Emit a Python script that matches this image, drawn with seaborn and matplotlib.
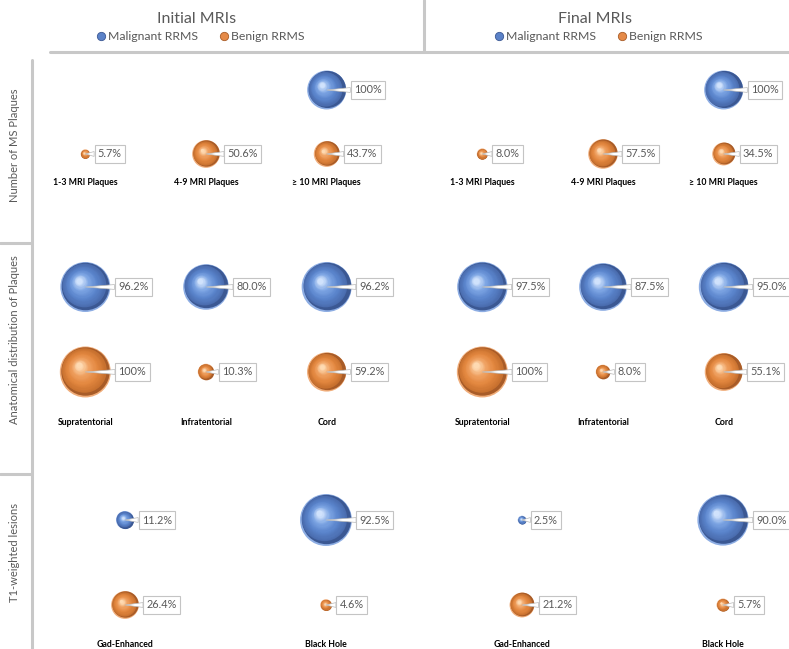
import numpy as np
import pandas as pd
import matplotlib
matplotlib.use("Agg")
import matplotlib.pyplot as plt
from matplotlib.lines import Line2D
from matplotlib.transforms import ScaledTranslation
from matplotlib.colors import LinearSegmentedColormap
import seaborn as sns

# ---------------- data ----------------
groups = ["Benign RRMS", "Malignant RRMS"]
columns = ["Initial MRIs", "Final MRIs"]
row_titles = ["Number of MS Plaques", "Anatomical distribution of Plaques", "T1-weighted lesions"]

cat_plaques = ["1-3 MRI Plaques", "4-9 MRI Plaques", "\u2265 10 MRI Plaques"]
cat_anat = ["Supratentorial", "Infratentorial", "Cord"]
cat_t1 = ["Gad-Enhanced", "Black Hole"]

plaques_benign_initial = [5.7, 50.6, 43.7]
plaques_malignant_initial = [np.nan, np.nan, 100.0]
plaques_benign_final = [8.0, 57.5, 34.5]
plaques_malignant_final = [np.nan, np.nan, 100.0]

anat_benign_initial = [100.0, 10.3, 59.2]
anat_malignant_initial = [96.2, 80.0, 96.2]
anat_benign_final = [100.0, 8.0, 55.1]
anat_malignant_final = [97.5, 87.5, 95.0]

t1_benign_initial = [26.4, 4.6]
t1_malignant_initial = [11.2, 92.5]
t1_benign_final = [21.2, 5.7]
t1_malignant_final = [2.5, 90.0]

# ---------------- style ----------------
sns.set_theme(style="white")
plt.rcParams["font.family"] = ["Lato", "DejaVu Sans"]

W, H = 789, 649
fig = plt.figure(figsize=(W / 100, H / 100), dpi=100)

palette = {"Benign RRMS": "#e58a48", "Malignant RRMS": "#5b82c8"}
shade = {
    "Benign RRMS": LinearSegmentedColormap.from_list(
        "o", [(0, "#c8712f"), (0.3, "#e3873f"), (0.65, "#f0a263"), (1, "#fedab2")]),
    "Malignant RRMS": LinearSegmentedColormap.from_list(
        "b", [(0, "#4a6cae"), (0.3, "#5a84cc"), (0.65, "#7ea6e4"), (1, "#d0e2fc")]),
}
dark = {"Benign RRMS": "#a85c28", "Malignant RRMS": "#3b5893"}
rim = {"Benign RRMS": "#f0ad7a", "Malignant RRMS": "#8dade3"}
GRAY = "#595959"
LINE = "#c8c8c8"

# row layout: (categories, [(benign, malignant) per column], top px, bottom px, ylim bottom, 100% radius px)
rows = [
    (cat_plaques, [(plaques_benign_initial, plaques_malignant_initial),
                   (plaques_benign_final, plaques_malignant_final)], 58, 177, -0.36, 19.5),
    (cat_anat, [(anat_benign_initial, anat_malignant_initial),
                (anat_benign_final, anat_malignant_final)], 244.5, 417, -0.53, 25.5),
    (cat_t1, [(t1_benign_initial, t1_malignant_initial),
              (t1_benign_final, t1_malignant_final)], 477.5, 639, -0.40, 27.0),
]
col_left = {3: [25, 422], 2: [24.5, 421.5]}
col_width = {3: 362, 2: 402}


def fmt(v):
    return "100%" if v >= 100 else f"{v:.1f}%"


def offset_tr(ax, dx, dy):
    return ax.transData + ScaledTranslation(dx / 72, dy / 72, fig.dpi_scale_trans)


for cats, series, top, bot, ylo, rmax in rows:
    n = len(cats)
    for ci, (ben, mal) in enumerate(series):
        L = col_left[n][ci]
        ax = fig.add_axes([L / W, 1 - bot / H, col_width[n] / W, (bot - top) / H])
        df = pd.DataFrame({
            "category": cats * 2,
            "group": [groups[0]] * n + [groups[1]] * n,
            "value": list(ben) + list(mal),
        }).dropna()
        smax = (2 * rmax * 0.72) ** 2
        sns.scatterplot(data=df, x="category", y="group", size="value",
                        sizes=(0, smax), size_norm=(0, 100), hue="group",
                        palette=rim, legend=False, ax=ax,
                        linewidth=0, zorder=2)
        ax.set_xlim(-0.5, n - 0.5)
        ax.set_ylim(ylo, 1.5)
        coll = ax.collections[-1]
        offs = coll.get_offsets()
        sizes = coll.get_sizes()
        # sphere shading layers
        for (x, y), s, (_, rowd) in zip(offs, sizes, df.iterrows()):
            g = rowd["group"]
            r = np.sqrt(s) / 2.0  # points
            ax.scatter([x], [y], s=(2 * 0.95 * r) ** 2, color=dark[g], linewidths=0,
                       transform=offset_tr(ax, 0, 0.05 * r), zorder=3)
            N = 28
            for i in range(N):
                t = i / (N - 1)
                m = r * (0.10 + 0.26 * t)
                d = m / np.sqrt(2)
                rad = (r - m) * (1 - 0.82 * t) * (1 - 0.03 * (1 - t))
                ax.scatter([x], [y], s=(2 * rad) ** 2, color=shade[g](t),
                           linewidths=0, transform=offset_tr(ax, -d, d), zorder=3 + t)
            ax.annotate(fmt(rowd["value"]), xy=(x, y),
                        xytext=(r + 5.6, 0), textcoords="offset points",
                        ha="left", va="center", fontsize=7.8, color=GRAY, zorder=6,
                        bbox=dict(boxstyle="square,pad=0.3", fc="white", ec="#c4c4c4", lw=0.8),
                        arrowprops=dict(arrowstyle="wedge,tail_width=0.45", fc="white",
                                        ec="#b8b8b8", lw=0.5, shrinkA=0, shrinkB=0))
        ax.set_xticks(range(n))
        ax.set_xticklabels(cats, fontsize=6.3, fontweight="bold", color="black")
        ax.tick_params(axis="x", length=0, pad=1)
        ax.set_yticks([])
        ax.set_xlabel("")
        ax.set_ylabel("")
        for sp in ax.spines.values():
            sp.set_visible(False)
        ax.patch.set_alpha(0)

# ---------------- frame lines ----------------
def px_line(x0, y0, x1, y1, lw=2.2):
    fig.add_artist(Line2D([x0 / W, x1 / W], [1 - y0 / H, 1 - y1 / H],
                          color=LINE, lw=lw, transform=fig.transFigure))

px_line(50, 52, 789, 52)
px_line(424, 0, 424, 52)
px_line(32, 60, 32, 649)
px_line(0, 243, 32, 243)
px_line(0, 474, 32, 474)

# ---------------- headers ----------------
col_centers = [197, 595]
legend_centers = [200, 598]
for cx, lx, title in zip(col_centers, legend_centers, columns):
    fig.text(cx / W, 1 - 19 / H, title, ha="center", va="center",
             fontsize=11.5, color=GRAY)
    handles = [Line2D([], [], marker="o", ls="", markersize=6,
                      markerfacecolor=palette[g], markeredgecolor=dark[g],
                      markeredgewidth=0.6) for g in ["Malignant RRMS", "Benign RRMS"]]
    leg = fig.legend(handles, ["Malignant RRMS", "Benign RRMS"], ncol=2,
                     loc="center", bbox_to_anchor=(lx / W, 1 - 37 / H),
                     frameon=False, fontsize=8.8, handletextpad=0.1,
                     columnspacing=1.6, handlelength=1.0, borderaxespad=0)
    for t in leg.get_texts():
        t.set_color(GRAY)

row_label_y = [145, 340, 553]
for yy, lab in zip(row_label_y, row_titles):
    fig.text(15 / W, 1 - yy / H, lab, rotation=90, ha="center", va="center",
             fontsize=8, color=GRAY)

fig.savefig("out.png", dpi=100)
